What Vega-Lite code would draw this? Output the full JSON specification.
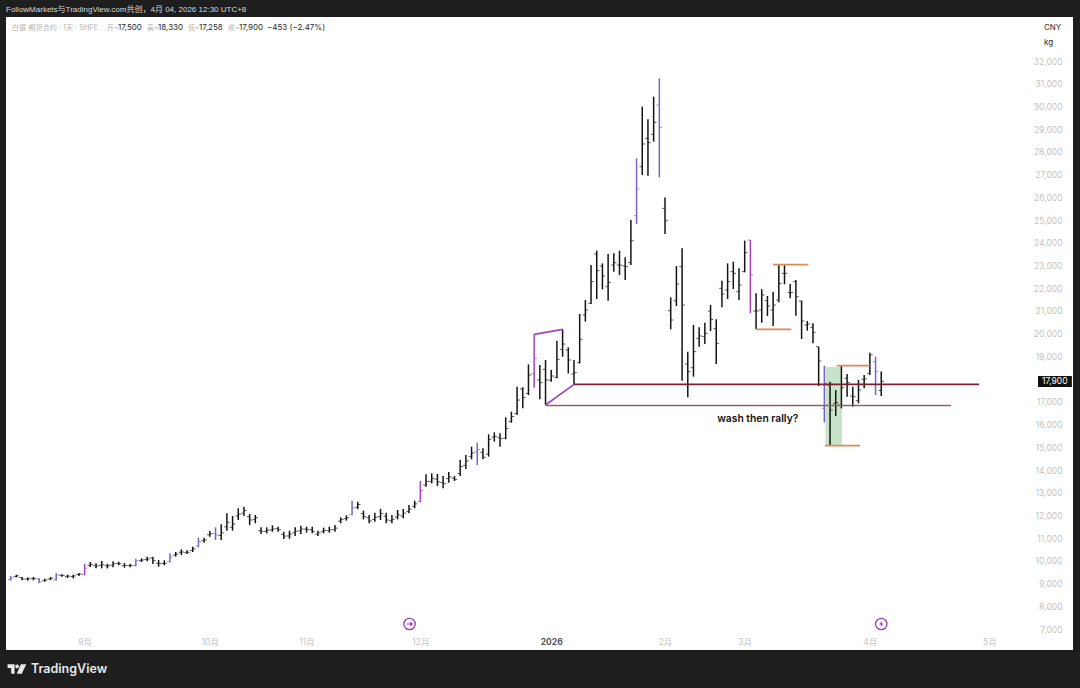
{"$schema":"https://vega.github.io/schema/vega-lite/v6.json","width":1067,"height":633,"autosize":"none","padding":{"left":6,"top":17,"right":7,"bottom":38},"background":"#1e1e1e","view":{"fill":"#ffffff","stroke":null},"title":{"text":"FollowMarkets与TradingView.com共创，4月 04, 2026 12:30 UTC+8","anchor":"start","frame":"group","offset":3,"color":"#d8d8d8","fontSize":8,"fontWeight":"normal","font":"Liberation Sans, Noto Sans CJK SC"},"config":{"font":"Inter, Noto Sans CJK SC","axis":{"labelOverlap":false}},
"datasets":{
"bars":[
{"i":0,"h":9335,"l":9130,"o":9180,"c":9250,"k":"v"},{"i":1,"h":9394,"l":9276,"o":9310,"c":9340,"k":"b"},{"i":2,"h":9291,"l":9145,"o":9270,"c":9200,"k":"b"},{"i":3,"h":9276,"l":9130,"o":9200,"c":9210,"k":"b"},{"i":4,"h":9291,"l":9145,"o":9230,"c":9220,"k":"b"},{"i":5,"h":9247,"l":9012,"o":9200,"c":9080,"k":"v"},{"i":6,"h":9218,"l":9086,"o":9130,"c":9160,"k":"b"},{"i":7,"h":9291,"l":9160,"o":9200,"c":9240,"k":"b"},{"i":8,"h":9452,"l":9130,"o":9170,"c":9380,"k":"v"},{"i":9,"h":9408,"l":9306,"o":9370,"c":9360,"k":"b"},{"i":10,"h":9394,"l":9247,"o":9320,"c":9330,"k":"b"},{"i":11,"h":9394,"l":9232,"o":9310,"c":9340,"k":"b"},{"i":12,"h":9467,"l":9335,"o":9400,"c":9420,"k":"b"},{"i":13,"h":9863,"l":9364,"o":9400,"c":9680,"k":"m"},{"i":14,"h":9951,"l":9731,"o":9800,"c":9840,"k":"b"},{"i":15,"h":9893,"l":9672,"o":9790,"c":9780,"k":"b"},{"i":16,"h":9995,"l":9672,"o":9800,"c":9830,"k":"b"},{"i":17,"h":9878,"l":9672,"o":9780,"c":9790,"k":"b"},{"i":18,"h":9981,"l":9716,"o":9810,"c":9880,"k":"b"},{"i":19,"h":9966,"l":9804,"o":9880,"c":9870,"k":"b"},{"i":20,"h":9907,"l":9702,"o":9790,"c":9800,"k":"b"},{"i":21,"h":9878,"l":9716,"o":9790,"c":9800,"k":"b"},{"i":22,"h":10098,"l":9760,"o":9800,"c":10010,"k":"v"},{"i":23,"h":10113,"l":9951,"o":10010,"c":10040,"k":"b"},{"i":24,"h":10186,"l":9981,"o":10060,"c":10090,"k":"b"},{"i":25,"h":10186,"l":9863,"o":10130,"c":10010,"k":"b"},{"i":26,"h":10039,"l":9746,"o":9900,"c":9880,"k":"b"},{"i":27,"h":10025,"l":9804,"o":9890,"c":9900,"k":"b"},{"i":28,"h":10333,"l":9922,"o":9980,"c":10170,"k":"v"},{"i":29,"h":10391,"l":10186,"o":10260,"c":10300,"k":"b"},{"i":30,"h":10509,"l":10259,"o":10380,"c":10390,"k":"b"},{"i":31,"h":10465,"l":10303,"o":10360,"c":10380,"k":"b"},{"i":32,"h":10626,"l":10391,"o":10460,"c":10530,"k":"b"},{"i":33,"h":11022,"l":10597,"o":10650,"c":10850,"k":"v"},{"i":34,"h":11022,"l":10802,"o":10900,"c":10920,"k":"b"},{"i":35,"h":11316,"l":11066,"o":11150,"c":11200,"k":"b"},{"i":36,"h":11477,"l":10919,"o":11200,"c":11150,"k":"v"},{"i":37,"h":11609,"l":10919,"o":11120,"c":11230,"k":"b"},{"i":38,"h":12093,"l":11330,"o":11500,"c":11700,"k":"b"},{"i":39,"h":11976,"l":11330,"o":11480,"c":11620,"k":"b"},{"i":40,"h":12313,"l":11800,"o":11980,"c":12060,"k":"b"},{"i":41,"h":12386,"l":11976,"o":12100,"c":12220,"k":"b"},{"i":42,"h":12064,"l":11580,"o":11950,"c":11800,"k":"b"},{"i":43,"h":12020,"l":11653,"o":11830,"c":11900,"k":"b"},{"i":44,"h":11477,"l":11184,"o":11330,"c":11300,"k":"b"},{"i":45,"h":11477,"l":11213,"o":11300,"c":11350,"k":"b"},{"i":46,"h":11565,"l":11286,"o":11360,"c":11400,"k":"b"},{"i":47,"h":11506,"l":11286,"o":11420,"c":11380,"k":"b"},{"i":48,"h":11286,"l":10963,"o":11170,"c":11090,"k":"b"},{"i":49,"h":11330,"l":10978,"o":11100,"c":11180,"k":"b"},{"i":50,"h":11477,"l":11096,"o":11240,"c":11310,"k":"b"},{"i":51,"h":11550,"l":11184,"o":11320,"c":11400,"k":"b"},{"i":52,"h":11506,"l":11242,"o":11400,"c":11380,"k":"b"},{"i":53,"h":11506,"l":11213,"o":11370,"c":11300,"k":"b"},{"i":54,"h":11330,"l":11096,"o":11180,"c":11230,"k":"b"},{"i":55,"h":11462,"l":11213,"o":11300,"c":11340,"k":"b"},{"i":56,"h":11506,"l":11242,"o":11330,"c":11370,"k":"b"},{"i":57,"h":11580,"l":11286,"o":11380,"c":11440,"k":"b"},{"i":58,"h":11917,"l":11653,"o":11750,"c":11820,"k":"b"},{"i":59,"h":12005,"l":11770,"o":11860,"c":11900,"k":"b"},{"i":60,"h":12650,"l":12005,"o":12050,"c":12330,"k":"v"},{"i":61,"h":12606,"l":12269,"o":12360,"c":12480,"k":"b"},{"i":62,"h":12210,"l":11829,"o":12080,"c":11950,"k":"b"},{"i":63,"h":12020,"l":11653,"o":11900,"c":11760,"k":"b"},{"i":64,"h":12122,"l":11726,"o":11820,"c":11920,"k":"b"},{"i":65,"h":12284,"l":11800,"o":11950,"c":12090,"k":"b"},{"i":66,"h":12122,"l":11653,"o":11970,"c":11800,"k":"b"},{"i":67,"h":12020,"l":11653,"o":11770,"c":11830,"k":"b"},{"i":68,"h":12240,"l":11829,"o":11930,"c":12030,"k":"b"},{"i":69,"h":12284,"l":11873,"o":11980,"c":12100,"k":"b"},{"i":70,"h":12460,"l":12093,"o":12180,"c":12280,"k":"b"},{"i":71,"h":12650,"l":12313,"o":12400,"c":12510,"k":"b"},{"i":72,"h":13516,"l":12577,"o":12620,"c":13100,"k":"m"},{"i":73,"h":13809,"l":13266,"o":13350,"c":13500,"k":"b"},{"i":74,"h":13853,"l":13413,"o":13500,"c":13620,"k":"b"},{"i":75,"h":13824,"l":13296,"o":13600,"c":13480,"k":"b"},{"i":76,"h":13736,"l":13193,"o":13450,"c":13400,"k":"b"},{"i":77,"h":13912,"l":13443,"o":13620,"c":13700,"k":"b"},{"i":78,"h":13736,"l":13516,"o":13640,"c":13590,"k":"b"},{"i":79,"h":14440,"l":13736,"o":13850,"c":14150,"k":"b"},{"i":80,"h":14660,"l":14044,"o":14200,"c":14400,"k":"b"},{"i":81,"h":15027,"l":14469,"o":14600,"c":14750,"k":"b"},{"i":82,"h":15203,"l":14220,"o":14800,"c":14900,"k":"v"},{"i":83,"h":14954,"l":14469,"o":14780,"c":14560,"k":"b"},{"i":84,"h":15570,"l":14587,"o":14700,"c":15350,"k":"b"},{"i":85,"h":15658,"l":15247,"o":15450,"c":15480,"k":"b"},{"i":86,"h":15614,"l":15027,"o":15420,"c":15380,"k":"b"},{"i":87,"h":16318,"l":15350,"o":15400,"c":15830,"k":"b"},{"i":88,"h":16567,"l":16083,"o":16130,"c":16350,"k":"b"},{"i":89,"h":17668,"l":16420,"o":16490,"c":17080,"k":"b"},{"i":90,"h":17638,"l":16714,"o":17565,"c":17184,"k":"b"},{"i":91,"h":18650,"l":17301,"o":17374,"c":18181,"k":"b"},{"i":92,"h":19971,"l":17623,"o":18254,"c":18915,"k":"m"},{"i":93,"h":18621,"l":17110,"o":17961,"c":17843,"k":"b"},{"i":94,"h":18841,"l":16861,"o":18430,"c":17961,"k":"b"},{"i":95,"h":18401,"l":17887,"o":17961,"c":18137,"k":"b"},{"i":96,"h":19692,"l":18034,"o":18078,"c":18871,"k":"b"},{"i":97,"h":20191,"l":18988,"o":19310,"c":19545,"k":"b"},{"i":98,"h":19399,"l":18254,"o":19281,"c":18841,"k":"b"},{"i":99,"h":18841,"l":17770,"o":18225,"c":18284,"k":"b"},{"i":100,"h":20866,"l":18694,"o":18724,"c":19750,"k":"b"},{"i":101,"h":21482,"l":20528,"o":20822,"c":21042,"k":"b"},{"i":102,"h":23022,"l":21306,"o":21335,"c":22288,"k":"b"},{"i":103,"h":23653,"l":21526,"o":23506,"c":22773,"k":"b"},{"i":104,"h":23095,"l":21951,"o":22978,"c":22538,"k":"b"},{"i":105,"h":23506,"l":21453,"o":22068,"c":22259,"k":"b"},{"i":106,"h":23535,"l":22729,"o":23022,"c":23125,"k":"b"},{"i":107,"h":23653,"l":22582,"o":23022,"c":23022,"k":"b"},{"i":108,"h":23359,"l":22362,"o":22978,"c":22949,"k":"b"},{"i":109,"h":25003,"l":23022,"o":23125,"c":24093,"k":"b"},{"i":110,"h":27716,"l":24826,"o":25193,"c":26367,"k":"v"},{"i":111,"h":29990,"l":26983,"o":27350,"c":28347,"k":"b"},{"i":112,"h":29433,"l":26954,"o":28597,"c":28406,"k":"b"},{"i":113,"h":30430,"l":28450,"o":28773,"c":29301,"k":"b"},{"i":114,"h":31237,"l":26880,"o":30064,"c":29081,"k":"v"},{"i":115,"h":25990,"l":24386,"o":25516,"c":24973,"k":"b"},{"i":116,"h":21599,"l":20191,"o":21012,"c":20601,"k":"b"},{"i":117,"h":22978,"l":21218,"o":21452,"c":22186,"k":"b"},{"i":118,"h":23756,"l":17932,"o":22949,"c":21262,"k":"b"},{"i":119,"h":19208,"l":17198,"o":18665,"c":18328,"k":"b"},{"i":120,"h":20382,"l":18108,"o":18504,"c":19208,"k":"b"},{"i":121,"h":20279,"l":19428,"o":19795,"c":19898,"k":"b"},{"i":122,"h":20485,"l":19546,"o":19869,"c":20015,"k":"b"},{"i":123,"h":21262,"l":20118,"o":20998,"c":20631,"k":"b"},{"i":124,"h":20631,"l":18666,"o":20221,"c":19575,"k":"b"},{"i":125,"h":22333,"l":21160,"o":21996,"c":21746,"k":"b"},{"i":126,"h":23096,"l":21526,"o":21922,"c":22289,"k":"b"},{"i":127,"h":23169,"l":21966,"o":22729,"c":22656,"k":"b"},{"i":128,"h":22876,"l":21482,"o":21849,"c":22143,"k":"b"},{"i":129,"h":24094,"l":22700,"o":22729,"c":23565,"k":"b"},{"i":130,"h":24123,"l":20896,"o":24123,"c":22583,"k":"m"},{"i":131,"h":21776,"l":20191,"o":20998,"c":20998,"k":"b"},{"i":132,"h":21952,"l":20485,"o":21042,"c":21702,"k":"b"},{"i":133,"h":21659,"l":20778,"o":21453,"c":21218,"k":"b"},{"i":134,"h":21849,"l":20338,"o":21042,"c":21262,"k":"b"},{"i":135,"h":23023,"l":21380,"o":21482,"c":22216,"k":"b"},{"i":136,"h":23023,"l":22172,"o":22656,"c":22656,"k":"b"},{"i":137,"h":22186,"l":21556,"o":21805,"c":21805,"k":"b"},{"i":138,"h":22362,"l":20793,"o":22289,"c":21629,"k":"b"},{"i":139,"h":21453,"l":19766,"o":21438,"c":20558,"k":"b"},{"i":140,"h":20558,"l":20133,"o":20382,"c":20426,"k":"b"},{"i":141,"h":20455,"l":19575,"o":20279,"c":20059,"k":"b"},{"i":142,"h":19428,"l":17697,"o":19428,"c":18798,"k":"b"},{"i":143,"h":18592,"l":16084,"o":16715,"c":17815,"k":"v"},{"i":144,"h":17888,"l":15057,"o":17741,"c":16641,"k":"b"},{"i":145,"h":17521,"l":16377,"o":16935,"c":16964,"k":"b"},{"i":146,"h":18578,"l":16715,"o":16861,"c":17624,"k":"b"},{"i":147,"h":18226,"l":17228,"o":18035,"c":17844,"k":"b"},{"i":148,"h":17668,"l":16788,"o":17257,"c":17228,"k":"b"},{"i":149,"h":17962,"l":16935,"o":17052,"c":17522,"k":"b"},{"i":150,"h":18182,"l":17595,"o":17991,"c":18006,"k":"b"},{"i":151,"h":19164,"l":18182,"o":18255,"c":19062,"k":"b"},{"i":152,"h":18989,"l":17301,"o":18768,"c":18328,"k":"v"},{"i":153,"h":18330,"l":17258,"o":17500,"c":17900,"k":"b"}],
"segments":[
{"i":99,"i2":170.2,"p":17770,"p2":17770,"k":"red"},{"i":94,"i2":165.3,"p":16840,"p2":16840,"k":"mauve"},{"i":92,"i2":97,"p":19971,"p2":20191,"k":"m"},{"i":94,"i2":99,"p":16861,"p2":17770,"k":"m"},{"i":134,"i2":140.2,"p":23037,"p2":23037,"k":"orange"},{"i":131,"i2":137.2,"p":20191,"p2":20191,"k":"orange"},{"i":145.2,"i2":151,"p":18592,"p2":18592,"k":"orange"},{"i":143.1,"i2":149.3,"p":15072,"p2":15072,"k":"orange"}]},
"encoding":{"x":{"field":"i","type":"quantitative","title":null,"scale":{"domain":[-0.82,186.7],"nice":false,"zero":false},"axis":{"values":[13,35,52,72,95,115,129,151,172],"labelExpr":"datum.value==13?'9月':datum.value==35?'10月':datum.value==52?'11月':datum.value==72?'12月':datum.value==95?'2026':datum.value==115?'2月':datum.value==129?'3月':datum.value==151?'4月':'5月'","labelFontWeight":{"condition":{"test":"datum.value==95","value":"bold"},"value":"normal"},"labelColor":{"condition":{"test":"datum.value==95","value":"#555555"},"value":"#c4c4c4"},"labelFontSize":8.5,"labelBaseline":"middle","labelPadding":-9,"domain":false,"ticks":false,"grid":false,"labelOverlap":false,"labelFlush":false,"labelBound":false}},"y":{"field":"p","type":"quantitative","title":null,"scale":{"domain":[6078.5,33937],"nice":false,"zero":false},"axis":{"orient":"right","values":[7000,8000,9000,10000,11000,12000,13000,14000,15000,16000,17000,19000,20000,21000,22000,23000,24000,25000,26000,27000,28000,29000,30000,31000,32000],"labelExpr":"format(datum.value, ',')","labelColor":"#c4c4c4","labelFontSize":8.5,"labelAlign":"right","labelPadding":-11,"domain":false,"ticks":false,"grid":false,"labelOverlap":false,"labelBound":false}}},
"layer":[
{"data":{"values":[{"i":143.2,"i2":146.1,"p":18548,"p2":15057}]},"mark":{"type":"rect","fill":"#c8e4c8"},"encoding":{"x2":{"field":"i2"},"y2":{"field":"p2"}}},
{"data":{"name":"bars"},"mark":{"type":"rule","strokeWidth":1.5},"encoding":{"y":{"field":"h","type":"quantitative","title":null},"y2":{"field":"l"},"color":{"field":"k","type":"nominal","legend":null,"scale":{"domain":["b","v","m","red","mauve","orange"],"range":["#141414","#7a62c6","#a245bd","#7d1f30","#8f5f6a","#dd8b55"]}}}},
{"data":{"name":"bars"},"mark":{"type":"tick","orient":"horizontal","size":2.5,"thickness":1,"xOffset":-1.5},"encoding":{"y":{"field":"o","type":"quantitative","title":null},"color":{"field":"k","type":"nominal","legend":null}}},
{"data":{"name":"bars"},"mark":{"type":"tick","orient":"horizontal","size":2.5,"thickness":1,"xOffset":1.5},"encoding":{"y":{"field":"c","type":"quantitative","title":null},"color":{"field":"k","type":"nominal","legend":null}}},
{"data":{"name":"segments"},"mark":{"type":"rule","strokeWidth":1.7},"encoding":{"x2":{"field":"i2"},"y2":{"field":"p2"},"color":{"field":"k","type":"nominal","legend":null}}},
{"data":{"values":[{"i":180.55,"i2":186.5,"p":18137,"p2":17653}]},"mark":{"type":"rect","fill":"#111111"},"encoding":{"x2":{"field":"i2"},"y2":{"field":"p2"}}},
{"data":{"values":[{"i":183.5,"p":17900,"t":"17,900"}]},"mark":{"type":"text","color":"#ffffff","fontSize":8.5,"align":"center","baseline":"middle"},"encoding":{"text":{"field":"t"}}},
{"data":{"values":[{"i":131.3,"p":16223,"t":"wash then rally?"}]},"mark":{"type":"text","color":"#111111","fontSize":10.3,"fontWeight":600,"align":"center","baseline":"middle"},"encoding":{"text":{"field":"t"}}},
{"data":{"values":[{"i":0.2,"p":33450,"t":"白银 期货合约 · 1天 · SHFE"}]},"mark":{"type":"text","color":"#b4b4b4","fontSize":7.2,"align":"left","baseline":"middle"},"encoding":{"text":{"field":"t"}}},
{"data":{"values":[{"i":16.93,"p":33450,"t":"开="},{"i":23.96,"p":33450,"t":"高="},{"i":31.17,"p":33450,"t":"低="},{"i":38.2,"p":33450,"t":"收="}]},"mark":{"type":"text","color":"#b4b4b4","fontSize":7,"align":"left","baseline":"middle"},"encoding":{"text":{"field":"t"}}},
{"data":{"values":[{"i":18.86,"p":33450,"t":"17,500"},{"i":25.9,"p":33450,"t":"18,330"},{"i":33.1,"p":33450,"t":"17,258"},{"i":40.13,"p":33450,"t":"17,900"},{"i":45.05,"p":33450,"t":"−453 (−2.47%)"},{"i":181.6,"p":33450,"t":"CNY"},{"i":181.6,"p":32790,"t":"kg"}]},"mark":{"type":"text","color":"#2a2a2a","fontSize":8,"align":"left","baseline":"middle"},"encoding":{"text":{"field":"t"}}},
{"data":{"values":[{"i":70.1,"p":7223},{"i":153,"p":7223}]},"mark":{"type":"point","shape":"circle","filled":true,"fill":"#ffffff","stroke":"#9a3cb4","strokeWidth":1.3,"size":130,"opacity":1}},
{"data":{"values":[{"i":153,"p":7223}]},"mark":{"type":"point","shape":"M0.25 -1 L-0.7 0.15 H-0.05 L-0.25 1 L0.7 -0.15 H0.05 Z","filled":true,"fill":"#9a3cb4","strokeWidth":0,"size":40,"opacity":1}},
{"data":{"values":[{"i":70.1,"p":7223}]},"mark":{"type":"point","shape":"M-1 0 H0.8 M0.2 -0.6 L0.9 0 L0.2 0.6","filled":false,"stroke":"#9a3cb4","strokeWidth":1.2,"size":36,"opacity":1}},
{"data":{"values":[{"i":3.57,"p":5242,"t":"TradingView"}]},"mark":{"type":"text","color":"#e8e8e8","fontSize":12.5,"fontWeight":600,"align":"left","baseline":"middle"},"encoding":{"text":{"field":"t"}}},
{"data":{"values":[{"i":1.1,"p":5242}]},"mark":{"type":"point","shape":"M-1 -0.52 H-0.25 V0.52 H-0.62 V-0.1 H-1 Z M0.22 -0.28 A0.2 0.2 0 1 1 -0.18 -0.28 A0.2 0.2 0 1 1 0.22 -0.28 Z M0.42 -0.52 H1 L0.52 0.52 H-0.02 Z","filled":true,"fill":"#e8e8e8","strokeWidth":0,"size":350,"opacity":1}}
]}
